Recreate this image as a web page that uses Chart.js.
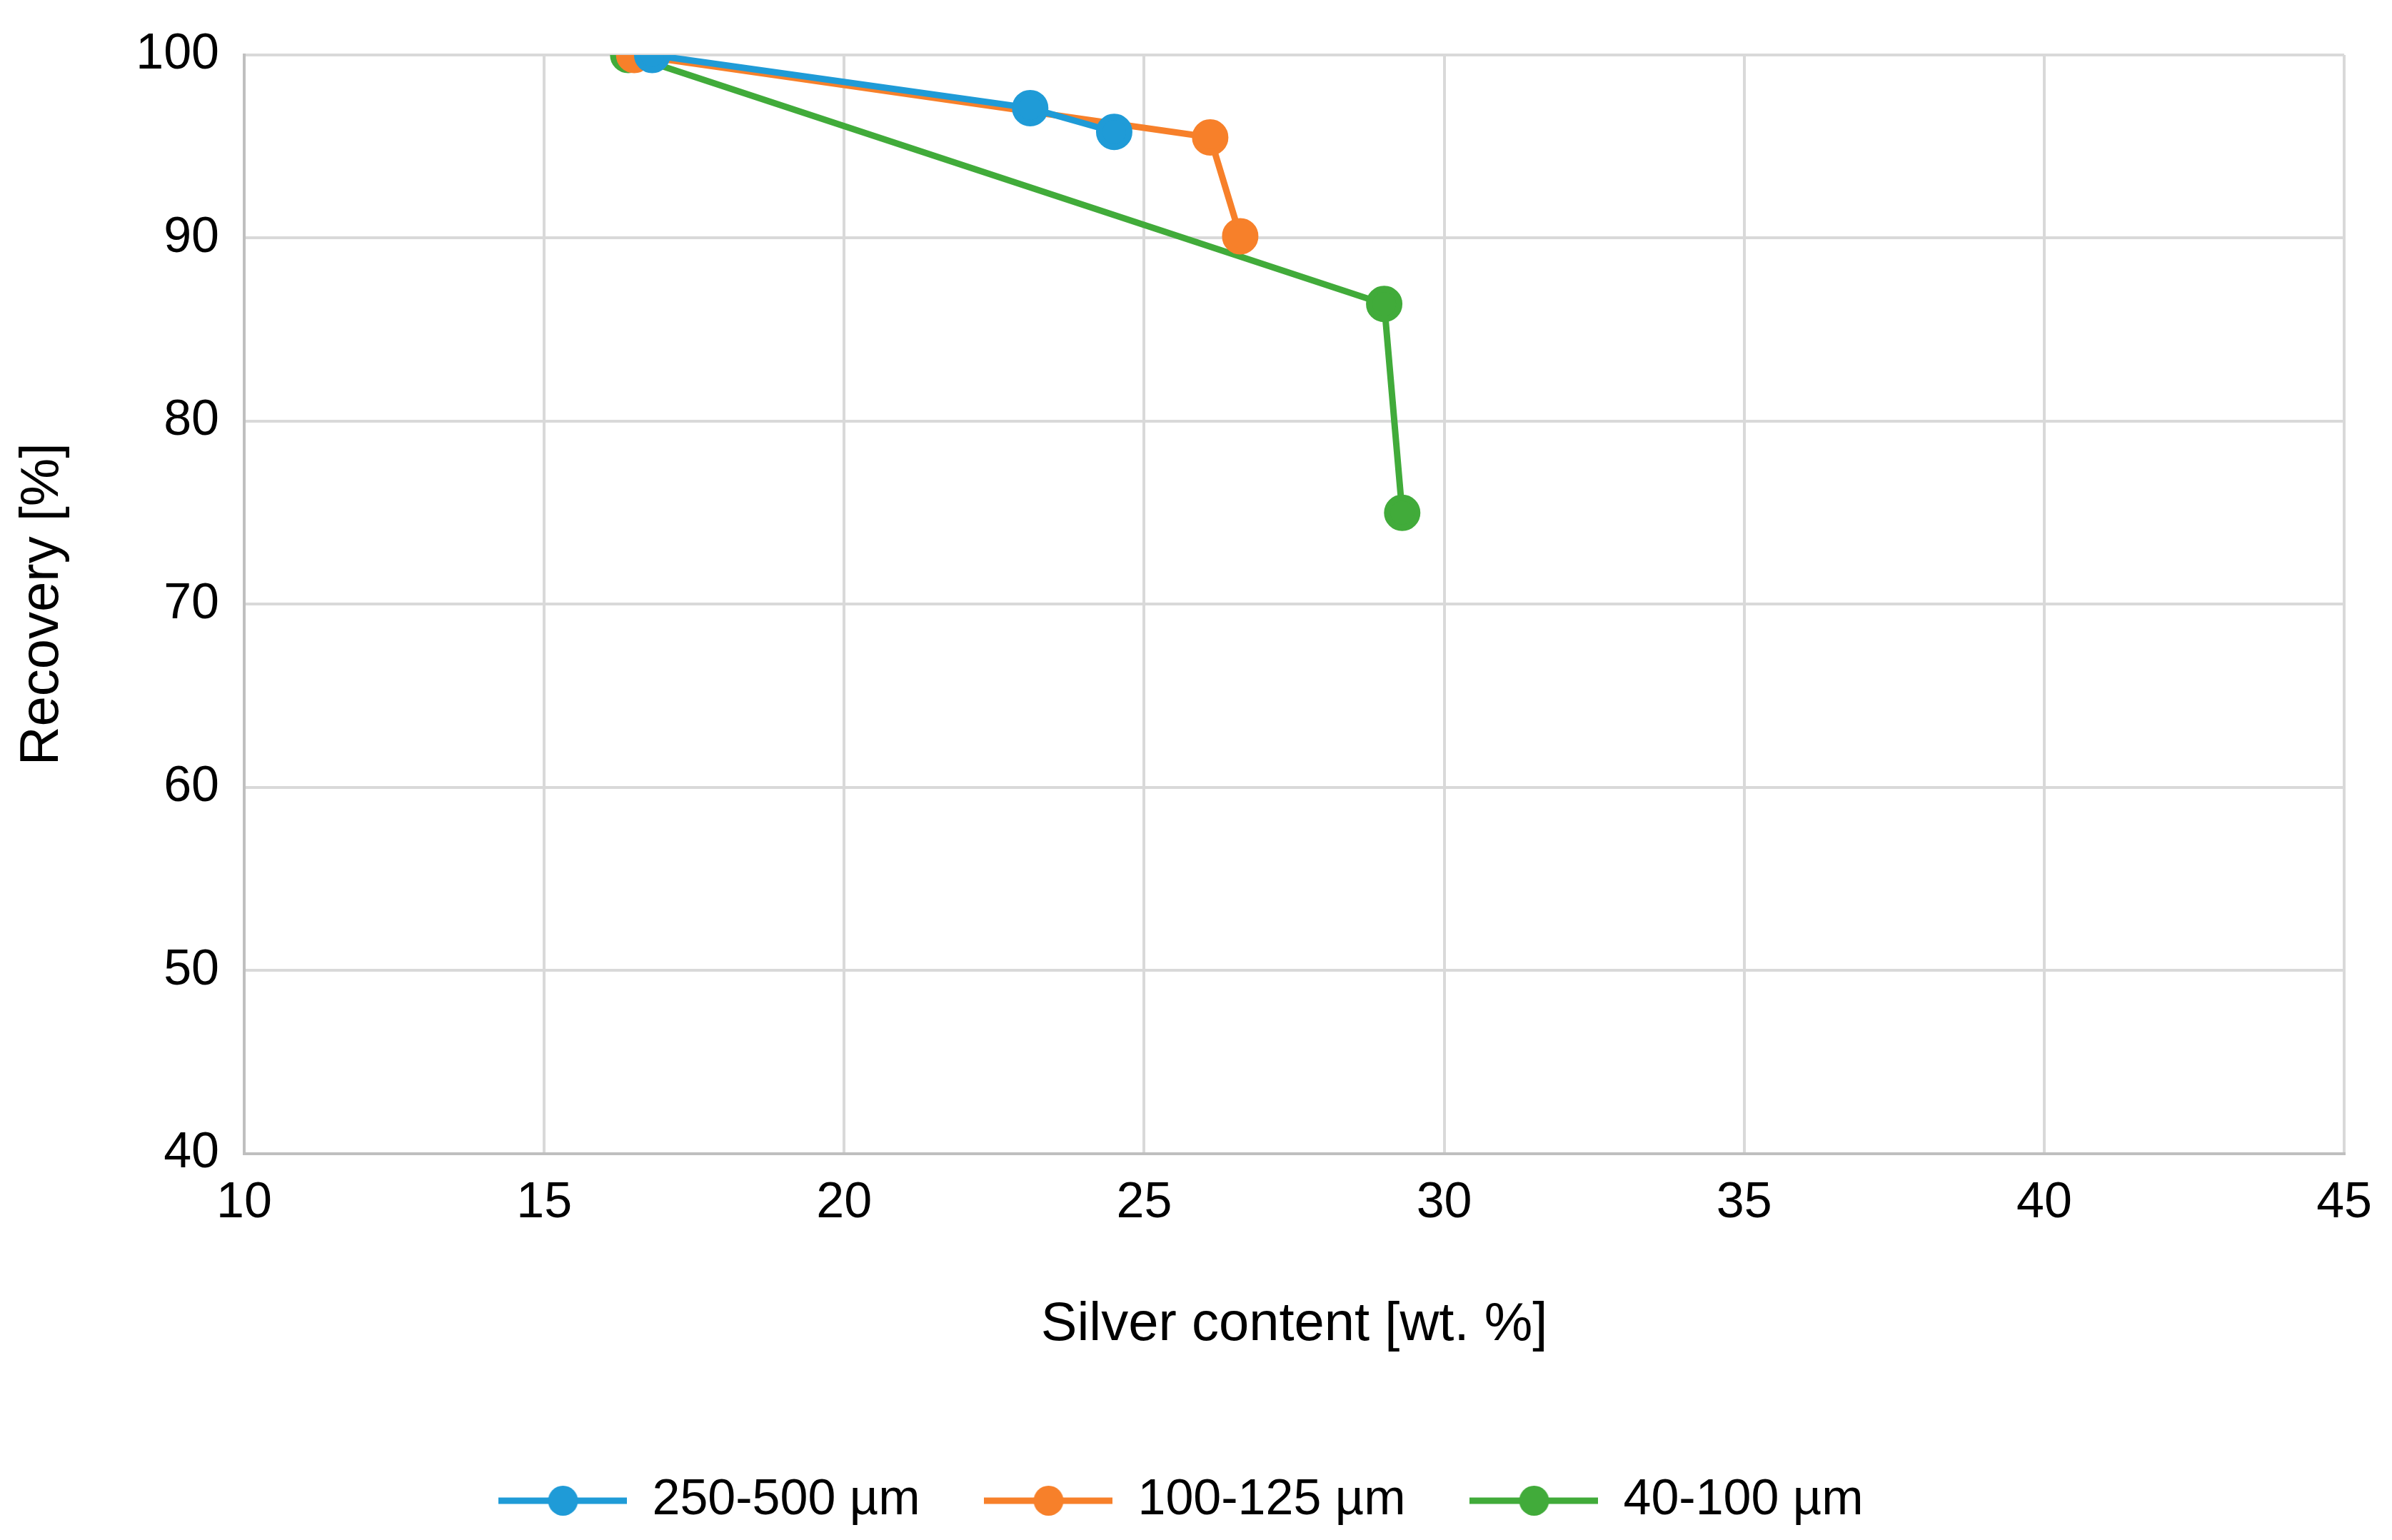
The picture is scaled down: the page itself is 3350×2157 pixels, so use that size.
<!DOCTYPE html>
<html><head><meta charset="utf-8">
<script src="https://cdn.jsdelivr.net/npm/chart.js@4"></script>
<style>html,body{margin:0;padding:0;background:#fff}#w{width:3350px;height:2157px}</style>
</head><body><div id="w"><canvas id="c"></canvas></div>
<script>
const seriesNames = ["250-500 µm","100-125 µm","40-100 µm"];
const colors = ["#1f9bd7","#f7802a","#41ab3a"];
const blueX = [16.8, 23.1, 24.5];
const blueY = [100, 97.1, 95.8];
const orangeX = [16.5, 26.1, 26.6];
const orangeY = [100, 95.5, 90.1];
const greenX = [16.4, 29.0, 29.3];
const greenY = [100, 86.4, 75.0];
const xs=[blueX,orangeX,greenX], ys=[blueY,orangeY,greenY];

function icon(col){const c=document.createElement('canvas');c.width=180;c.height=50;const g=c.getContext('2d');
g.strokeStyle=col;g.lineWidth=9;g.beginPath();g.moveTo(0,25);g.lineTo(180,25);g.stroke();
g.fillStyle=col;g.beginPath();g.arc(90,25,21,0,Math.PI*2);g.fill();return c;}
const icons=colors.map(icon);
const F='Liberation Sans, Arial, sans-serif';
new Chart(document.getElementById('c'),{
type:'scatter',
data:{datasets:seriesNames.map((n,i)=>({label:n,data:xs[i].map((x,j)=>({x,y:ys[i][j]})),showLine:true,
borderColor:colors[i],backgroundColor:colors[i],borderWidth:9,pointRadius:21,pointHoverRadius:21}))},
options:{responsive:true,maintainAspectRatio:false,animation:false,devicePixelRatio:1,
layout:{padding:{top:18,right:52,left:10,bottom:10}},
plugins:{legend:{position:'bottom',labels:{usePointStyle:true,pointStyleWidth:180,boxHeight:50,font:{size:70,family:F},color:'#000',padding:90,
generateLabels:(ch)=>ch.data.datasets.map((d,i)=>({text:d.label,pointStyle:icons[i],fillStyle:colors[i],strokeStyle:colors[i],datasetIndex:i,hidden:false,fontColor:'#000'}))}},tooltip:{enabled:false}},
scales:{
x:{min:10,max:45,ticks:{stepSize:5,font:{size:70,family:F},color:'#000',padding:28},
grid:{color:'#d9d9d9',lineWidth:4,drawTicks:false},border:{color:'#bfbfbf',width:4},
title:{display:true,text:'Silver content [wt. %]',font:{size:76,family:F},color:'#000',padding:{top:55,bottom:75}}},
y:{min:40,max:100,ticks:{stepSize:10,font:{size:70,family:F},color:'#000',padding:35},
grid:{color:'#d9d9d9',lineWidth:4,drawTicks:false},border:{color:'#bfbfbf',width:4},
title:{display:true,text:'Recovery [%]',font:{size:76,family:F},color:'#000',padding:{bottom:50}}}
}}});
</script></body></html>
